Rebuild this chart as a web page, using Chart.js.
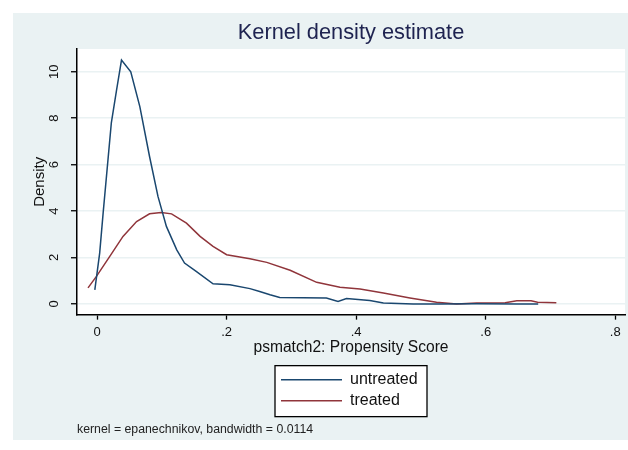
<!DOCTYPE html>
<html>
<head>
<meta charset="utf-8">
<script src="https://cdn.jsdelivr.net/npm/chart.js@4"></script>
<style>
  html, body { margin: 0; padding: 0; background: #fff; }
  #wrap { width: 628px; height: 450px; }
</style>
</head>
<body>
<div id="wrap"><canvas id="kd" width="628" height="450"></canvas></div>
<script>
// values
const untreatedX = [-0.0035, 0.004, 0.0093, 0.022, 0.030, 0.0377, 0.052, 0.066, 0.081, 0.094, 0.107, 0.123, 0.135, 0.153, 0.179, 0.205, 0.236, 0.251, 0.267, 0.282, 0.354, 0.372, 0.385, 0.421, 0.442, 0.488, 0.529, 0.586, 0.648, 0.681];
const untreatedY = [0.61, 2.19, 3.9, 7.8, 9.2, 10.5, 10.0, 8.5, 6.35, 4.63, 3.34, 2.33, 1.76, 1.40, 0.87, 0.83, 0.66, 0.54, 0.40, 0.28, 0.26, 0.11, 0.23, 0.15, 0.04, 0.0, 0.0, 0.01, 0.0, 0.0];

const treatedX = [-0.014, -0.001, 0.0196, 0.040, 0.061, 0.081, 0.099, 0.115, 0.138, 0.159, 0.179, 0.200, 0.236, 0.262, 0.298, 0.339, 0.375, 0.406, 0.442, 0.483, 0.524, 0.555, 0.586, 0.630, 0.648, 0.670, 0.680, 0.709];
const treatedY = [0.69, 1.19, 2.05, 2.91, 3.55, 3.88, 3.94, 3.88, 3.48, 2.91, 2.48, 2.12, 1.95, 1.79, 1.45, 0.93, 0.72, 0.64, 0.47, 0.26, 0.07, 0.0, 0.04, 0.05, 0.14, 0.14, 0.07, 0.05];

const seriesNames = ["untreated", "treated"];
const xTickValues = [0, 0.2, 0.4, 0.6, 0.8];
const xTickLabels = ["0", ".2", ".4", ".6", ".8"];
const yTickValues = [0, 2, 4, 6, 8, 10];
const yTickLabels = ["0", "2", "4", "6", "8", "10"];

const FONT = "'Liberation Sans', Arial, sans-serif";
const PANEL = "#eaf2f3";

function toPoints(xs, ys) {
  return xs.map((x, i) => ({ x: x, y: ys[i] }));
}

// light outer region + white plot region, like Stata s2color
const backdrop = {
  id: "backdrop",
  beforeDraw(chart) {
    const { ctx, chartArea } = chart;
    ctx.save();
    ctx.fillStyle = PANEL;
    ctx.fillRect(13, 13, chart.width - 13, 427);
    ctx.fillStyle = "#fff";
    ctx.fillRect(chartArea.left, chartArea.top, chartArea.right - chartArea.left, chartArea.bottom - chartArea.top);
    ctx.restore();
  }
};

// boxed legend under the axis title
const boxLegend = {
  id: "boxLegend",
  afterDraw(chart) {
    const { ctx, chartArea } = chart;
    const cx = (chartArea.left + chartArea.right) / 2;
    const w = 152, h = 51;
    const left = cx - w / 2, top = chartArea.bottom + 51;
    ctx.save();
    ctx.fillStyle = "#fff";
    ctx.fillRect(left, top, w, h);
    ctx.strokeStyle = "#000";
    ctx.lineWidth = 1.3;
    ctx.strokeRect(left, top, w, h);
    ctx.font = "16px " + FONT;
    ctx.textBaseline = "middle";
    ctx.textAlign = "left";
    chart.data.datasets.forEach((ds, i) => {
      const y = top + 14 + i * 21;
      ctx.strokeStyle = ds.borderColor;
      ctx.lineWidth = 1.5;
      ctx.beginPath();
      ctx.moveTo(left + 6, y);
      ctx.lineTo(left + 67, y);
      ctx.stroke();
      ctx.fillStyle = "#111";
      ctx.fillText(ds.label, left + 75, y);
    });
    ctx.restore();
  }
};

new Chart(document.getElementById("kd").getContext("2d"), {
  type: "line",
  data: {
    datasets: [
      {
        label: seriesNames[0],
        data: toPoints(untreatedX, untreatedY),
        borderColor: "#1a476f",
        borderWidth: 1.5,
        pointRadius: 0,
        tension: 0,
        fill: false
      },
      {
        label: seriesNames[1],
        data: toPoints(treatedX, treatedY),
        borderColor: "#90353b",
        borderWidth: 1.5,
        pointRadius: 0,
        tension: 0,
        fill: false
      }
    ]
  },
  options: {
    responsive: false,
    animation: false,
    layout: { padding: { top: 13, left: 13, right: 3, bottom: 10 } },
    plugins: {
      legend: { display: false },
      tooltip: { enabled: false },
      title: {
        display: true,
        text: "Kernel density estimate",
        fullSize: false,
        color: "#1e2350",
        font: { family: FONT, size: 21.8, weight: "normal" },
        padding: { top: 7, bottom: 2.8 }
      },
      subtitle: {
        display: true,
        text: "kernel = epanechnikov, bandwidth = 0.0114",
        position: "bottom",
        align: "start",
        fullSize: false,
        color: "#222",
        font: { family: FONT, size: 12.3, weight: "normal" },
        padding: { top: 0, bottom: 2.6 }
      }
    },
    scales: {
      x: {
        type: "linear",
        position: "bottom",
        min: -0.031,
        max: 0.815,
        afterBuildTicks: (scale) => { scale.ticks = xTickValues.map((v) => ({ value: v })); },
        afterFit: (scale) => { scale.height = 108; },
        ticks: {
          color: "#111",
          font: { family: FONT, size: 13 },
          padding: 5,
          maxRotation: 0,
          callback: (v) => xTickLabels[xTickValues.indexOf(v)]
        },
        grid: { drawOnChartArea: false, tickLength: 5, tickColor: "#000", tickWidth: 1.3 },
        border: { color: "#000", width: 1.5 },
        title: {
          display: true,
          text: "psmatch2: Propensity Score",
          color: "#111",
          font: { family: FONT, size: 15.6 },
          padding: { top: 0, bottom: 65.7 }
        }
      },
      y: {
        type: "linear",
        min: -0.46,
        max: 10.98,
        afterBuildTicks: (scale) => { scale.ticks = yTickValues.map((v) => ({ value: v })); },
        afterFit: (scale) => { scale.width = 64; },
        ticks: {
          color: "#111",
          font: { family: FONT, size: 13 },
          padding: 9,
          minRotation: 90,
          maxRotation: 90,
          crossAlign: "center",
          callback: (v) => yTickLabels[yTickValues.indexOf(v)]
        },
        grid: { color: PANEL, lineWidth: 1.5, tickLength: 6, tickColor: "#000", tickWidth: 1.3 },
        border: { color: "#000", width: 1.5 },
        title: {
          display: true,
          text: "Density",
          color: "#111",
          font: { family: FONT, size: 15 },
          padding: { top: 18, bottom: 0 }
        }
      }
    }
  },
  plugins: [backdrop, boxLegend]
});
</script>
</body>
</html>
